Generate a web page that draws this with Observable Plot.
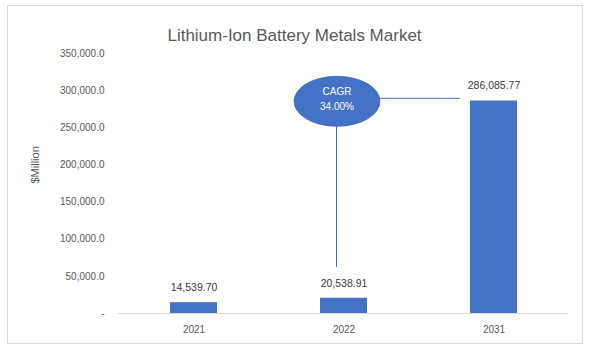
<!DOCTYPE html>
<html><head><meta charset="utf-8">
<script src="https://cdn.jsdelivr.net/npm/d3@7"></script>
<script src="https://cdn.jsdelivr.net/npm/@observablehq/plot@0.6"></script>
<style>
body{margin:0;background:#fff;}
#chart{position:relative;width:593px;height:355px;}
</style></head><body><div id="chart"></div>
<script>
const title = "Lithium-Ion Battery Metals Market";
const yLabel = "$Million";
const years = ["2021", "2022", "2031"];
const values = [14539.70, 20538.91, 286085.77];
const yTicks = [0, 50000, 100000, 150000, 200000, 250000, 300000, 350000];
const cagrText = ["CAGR", "34.00%"];
const cagrAnchor = {year: "2022", value: 285000};
const cagrLineEnd = {year: "2031", value: 289000};
const cagrDropEnd = 62000;

const data = years.map((y, i) => ({year: y, value: values[i]}));
const font = "'Liberation Sans', Arial, sans-serif";
const blue = "#4472C4";

const chart = Plot.plot({
  width: 593, height: 355,
  marginLeft: 118, marginRight: 25, marginTop: 53, marginBottom: 42,
  style: {fontFamily: font, fontSize: "10px", color: "#595959", background: "#fff"},
  x: {domain: years, paddingInner: 0.687, paddingOuter: 0.3435, label: null, tickSize: 0, tickPadding: 12},
  y: {domain: [0, 350000], ticks: yTicks, label: null, tickSize: 0, tickPadding: 14,
      tickFormat: d => d === 0 ? "-" : d3.format(",.1f")(d)},
  marks: [
    Plot.barY(data, {x: "year", y: "value", fill: blue}),
    Plot.ruleY([0], {stroke: "#d9d9d9", strokeWidth: 1}),
    Plot.text(data, {x: "year", y: "value", text: d => d3.format(",.2f")(d.value), dy: -15, fill: "#404040", fontSize: 10.5}),
    Plot.text([title], {frameAnchor: "top", dx: -49, dy: -25, fontSize: 17, fill: "#595959"}),
    Plot.text([yLabel], {frameAnchor: "left", dx: -83, rotate: -90, fontSize: 11, fill: "#595959"})
  ]
});
document.getElementById("chart").appendChild(chart);

// annotation using the chart's own scales
const sx = chart.scale("x"), sy = chart.scale("y");
const bw = sx.bandwidth;
const cx = Math.round(sx.apply(cagrAnchor.year) + bw / 2 - 7);
const cy = sy.apply(cagrAnchor.value);
const rx = 43, ry = 25;
const svg = d3.select(chart);
svg.insert("rect", ":first-child").attr("x", 7.5).attr("y", 5.5).attr("width", 575).attr("height", 338)
  .attr("fill", "#fff").attr("stroke", "#d9d9d9");
const g = svg.append("g");
g.append("line").attr("x1", cx - 0.5).attr("x2", cx - 0.5).attr("y1", cy + ry).attr("y2", sy.apply(cagrDropEnd))
  .attr("stroke", blue).attr("stroke-width", 1);
g.append("line").attr("x1", cx + rx).attr("y1", cy - 3)
  .attr("x2", sx.apply(cagrLineEnd.year) - 10).attr("y2", sy.apply(cagrLineEnd.value))
  .attr("stroke", blue).attr("stroke-width", 1);
g.append("ellipse").attr("cx", cx).attr("cy", cy).attr("rx", rx).attr("ry", ry)
  .attr("fill", blue).attr("stroke", "#3a64b0").attr("stroke-width", 0.8);
g.append("text").attr("x", cx).attr("y", cy - 6).attr("text-anchor", "middle").attr("fill", "#fff")
  .attr("font-family", font).attr("font-size", 10).text(cagrText[0]);
g.append("text").attr("x", cx).attr("y", cy + 9).attr("text-anchor", "middle").attr("fill", "#fff")
  .attr("font-family", font).attr("font-size", 10).text(cagrText[1]);
</script></body></html>
